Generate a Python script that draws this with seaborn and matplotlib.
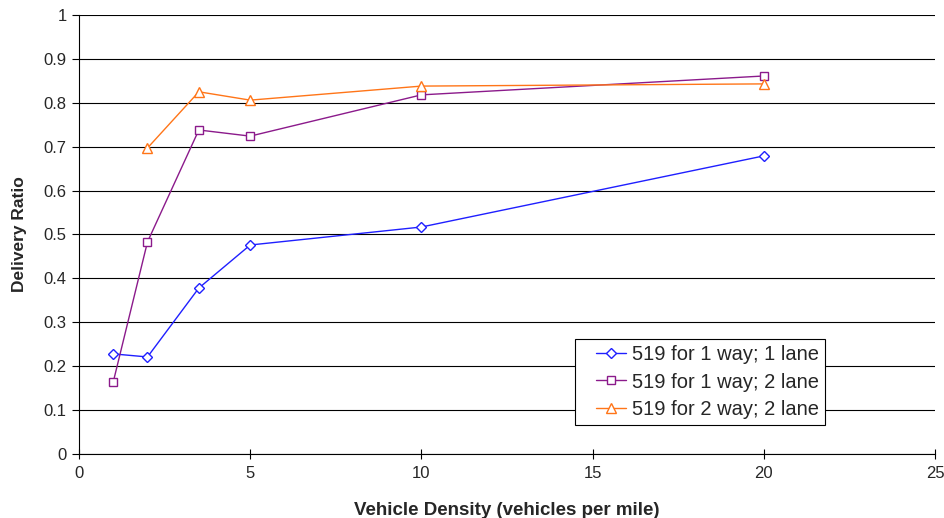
import matplotlib
matplotlib.use("Agg")
import matplotlib.pyplot as plt
from matplotlib.lines import Line2D
from matplotlib.legend_handler import HandlerLine2D
import seaborn as sns
import pandas as pd

# Vehicle density (vehicles per mile) and delivery ratio per scenario
density_a = [1, 2, 3.5, 5, 10, 20]
ratio_1way_1lane = [0.228, 0.221, 0.378, 0.476, 0.517, 0.679]

density_b = [1, 2, 3.5, 5, 10, 20]
ratio_1way_2lane = [0.164, 0.483, 0.738, 0.724, 0.818, 0.861]

density_c = [2, 3.5, 5, 10, 20]
ratio_2way_2lane = [0.697, 0.825, 0.806, 0.838, 0.843]

labels = ["519 for 1 way; 1 lane", "519 for 1 way; 2 lane", "519 for 2 way; 2 lane"]
colors = ["#1f1fff", "#8b1a8b", "#ff7518"]
markers = ["D", "s", "^"]
marker_sizes = [5, 6, 7]

x_ticks = [0, 5, 10, 15, 20, 25]
y_ticks = [0, 0.1, 0.2, 0.3, 0.4, 0.5, 0.6, 0.7, 0.8, 0.9, 1]

sns.set_style("white")
plt.rcParams["font.family"] = ["Liberation Sans", "DejaVu Sans"]

frames = [
    pd.DataFrame({"x": density_a, "y": ratio_1way_1lane, "series": labels[0]}),
    pd.DataFrame({"x": density_b, "y": ratio_1way_2lane, "series": labels[1]}),
    pd.DataFrame({"x": density_c, "y": ratio_2way_2lane, "series": labels[2]}),
]

fig = plt.figure(figsize=(9.45, 5.18), dpi=100)
ax = fig.add_axes([0.0836, 0.1236, 0.9058, 0.8475])

for df, c, m, ms in zip(frames, colors, markers, marker_sizes):
    sns.lineplot(data=df, x="x", y="y", ax=ax, color=c, marker=m,
                 markersize=ms, markerfacecolor="white", markeredgecolor=c,
                 markeredgewidth=1.0, linewidth=1.0, label=df["series"].iloc[0],
                 zorder=3)

ax.set_xlim(0, 25)
ax.set_ylim(0, 1)
ax.set_xticks(x_ticks)
ax.set_yticks(y_ticks)
ax.set_xticklabels([str(t) for t in x_ticks])
ax.set_yticklabels([f"{t:g}" for t in y_ticks])
ax.yaxis.grid(True, color="black", linewidth=0.8)
ax.xaxis.grid(False)
ax.set_axisbelow(True)

for side in ["top", "right"]:
    ax.spines[side].set_visible(False)
for side in ["left", "bottom"]:
    ax.spines[side].set_color("black")
    ax.spines[side].set_linewidth(0.8)

ax.tick_params(axis="y", which="major", direction="out", length=5, width=0.8,
               color="black", left=True, labelsize=12, pad=4)
ax.tick_params(axis="x", which="major", direction="inout", length=7, width=0.8,
               color="black", bottom=True, labelsize=12, pad=5)

ax.set_xlabel("Vehicle Density (vehicles per mile)", fontsize=13.5, fontweight="bold", labelpad=15)
ax.set_ylabel("Delivery Ratio", fontsize=12.5, fontweight="bold", labelpad=12)

leg = ax.legend(loc="lower right", bbox_to_anchor=(0.872, 0.066), fontsize=14.5,
                frameon=True, fancybox=False, edgecolor="black", framealpha=1,
                borderpad=0.3, handlelength=2.25, handletextpad=0.3,
                labelspacing=0.42, borderaxespad=0,
                handler_map={Line2D: HandlerLine2D(xpad=0.75)})
leg.get_frame().set_linewidth(0.8)

fig.savefig("out.png", dpi=100)
